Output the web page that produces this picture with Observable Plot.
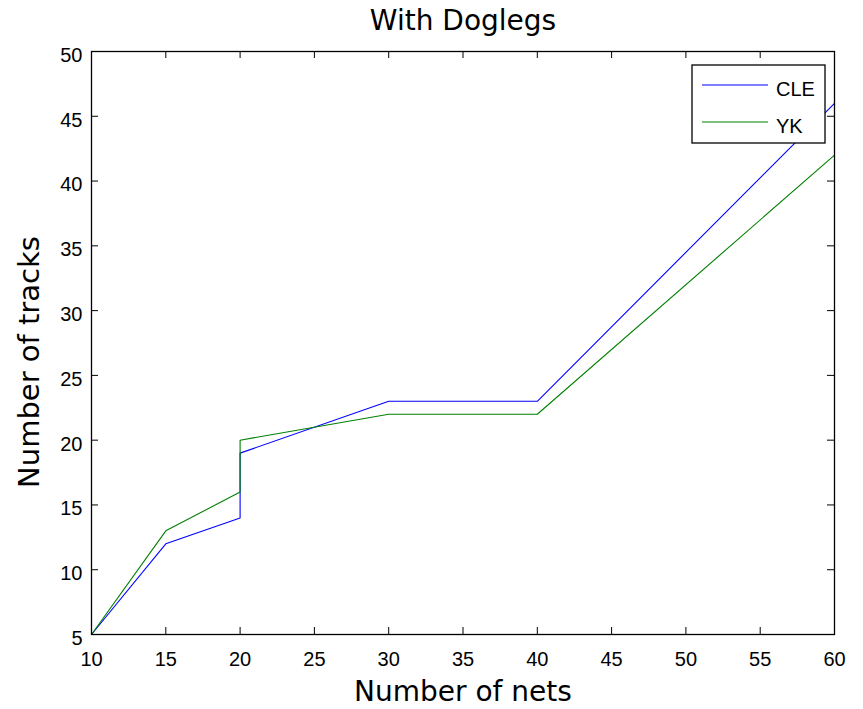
<!DOCTYPE html>
<html>
<head>
<meta charset="utf-8">
<script src="https://cdn.jsdelivr.net/npm/d3@7"></script>
<script src="https://cdn.jsdelivr.net/npm/@observablehq/plot@0.6"></script>
<style>
  html, body { margin: 0; padding: 0; background: #fff; }
</style>
</head>
<body>
<div id="chart"></div>
<script>
const seriesNames = ["CLE", "YK"];
const seriesColors = ["#0000ff", "#008000"];
const cleX = [10, 15, 20, 20, 30, 40, 60];
const cleY = [5, 12, 14, 19, 23, 23, 46];
const ykX = [10, 15, 20, 20, 30, 40, 60];
const ykY = [5, 13, 16, 20, 22, 22, 42];
const xTicks = [10, 15, 20, 25, 30, 35, 40, 45, 50, 55, 60];
const yTicks = [5, 10, 15, 20, 25, 30, 35, 40, 45, 50];
const titleText = "With Doglegs";
const xLabel = "Number of nets";
const yLabel = "Number of tracks";

const data = [
  ...cleX.map((x, i) => ({series: "CLE", x, y: cleY[i]})),
  ...ykX.map((x, i) => ({series: "YK", x, y: ykY[i]}))
];

const W = 863, H = 709;
const mL = 91, mR = 29, mT = 51, mB = 75;
const fw = W - mL - mR, fh = H - mT - mB;
const tk = 7;
const tickFont = "Liberation Sans, Arial, sans-serif";
const labelFont = "DejaVu Sans, Verdana, sans-serif";

const plot = Plot.plot({
  width: W, height: H,
  marginLeft: mL, marginRight: mR, marginTop: mT, marginBottom: mB,
  style: {fontFamily: tickFont, background: "#fff", overflow: "visible"},
  x: {domain: [10, 60]},
  y: {domain: [5, 50]},
  color: {domain: seriesNames, range: seriesColors},
  marks: [
    Plot.axisX(xTicks, {tickSize: 0, tickPadding: 17, fontSize: 20, fill: "#000", label: null}),
    Plot.axisY(yTicks, {tickSize: 0, tickPadding: 9, dy: 4, fontSize: 20, fill: "#000", label: null}),
    Plot.ruleX(xTicks, {x: d => d, insetTop: fh - tk, stroke: "#000"}),
    Plot.ruleX(xTicks, {x: d => d, insetBottom: fh - tk, stroke: "#000"}),
    Plot.ruleY(yTicks, {y: d => d, insetRight: fw - tk, stroke: "#000"}),
    Plot.ruleY(yTicks, {y: d => d, insetLeft: fw - tk, stroke: "#000"}),
    Plot.line(data, {x: "x", y: "y", z: "series", stroke: "series", strokeWidth: 1.1}),
    Plot.frame({stroke: "#000", strokeWidth: 1.3}),
    Plot.text([titleText], {frameAnchor: "top", lineAnchor: "middle", dy: -30, fontSize: 28, fontFamily: labelFont, fill: "#000"}),
    Plot.text([xLabel], {frameAnchor: "bottom", lineAnchor: "middle", dy: 58, fontSize: 28, fontFamily: labelFont, fill: "#000"}),
    Plot.text([yLabel], {frameAnchor: "left", textAnchor: "middle", lineAnchor: "middle", dx: -62, dy: 19, rotate: -90, fontSize: 29, fontFamily: labelFont, fill: "#000"})
  ]
});

// legend box (top-right inside frame)
const svg = d3.select(plot);
const lx = 692, ly = 65, lw = 133, lh = 78;
const g = svg.append("g");
g.append("rect").attr("x", lx).attr("y", ly).attr("width", lw).attr("height", lh)
  .attr("fill", "#fff").attr("stroke", "#000").attr("stroke-width", 1.3);
seriesNames.forEach((name, i) => {
  const yy = ly + 20 + i * 37;
  g.append("line").attr("x1", lx + 10).attr("x2", lx + 76).attr("y1", yy).attr("y2", yy)
    .attr("stroke", plot.scale("color").apply(name)).attr("stroke-width", 1.1);
  g.append("text").attr("x", lx + 84).attr("y", yy + 4).attr("dy", "0.35em")
    .attr("text-anchor", "start").attr("font-family", tickFont)
    .attr("font-size", 20).attr("fill", "#000").text(name);
});

document.getElementById("chart").appendChild(plot);
</script>
</body>
</html>
